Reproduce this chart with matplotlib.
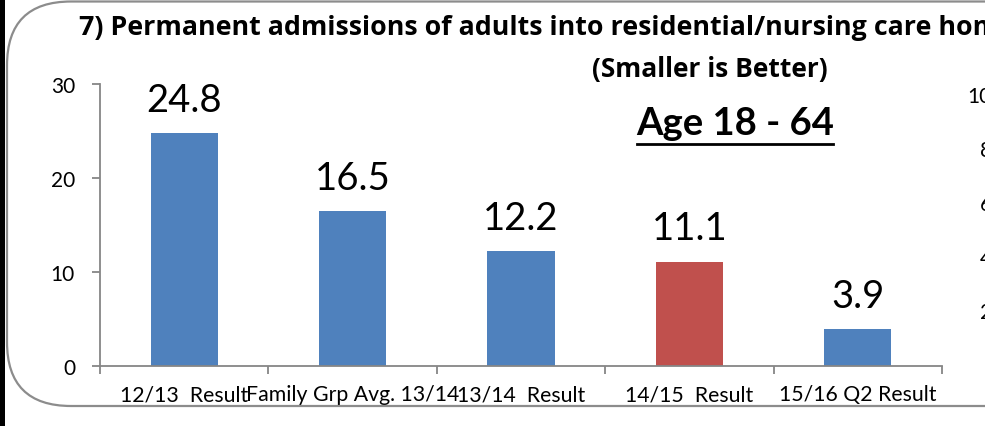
import matplotlib
matplotlib.use("Agg")
import matplotlib.pyplot as plt
from matplotlib.patches import FancyBboxPatch, Rectangle
from matplotlib.lines import Line2D

categories = ["12/13  Result", "Family Grp Avg. 13/14", "13/14  Result",
              "14/15  Result", "15/16 Q2 Result"]
values = [24.8, 16.5, 12.2, 11.1, 3.9]
value_labels = ["24.8", "16.5", "12.2", "11.1", "3.9"]
highlight = [False, False, False, True, False]
yticks = [0, 10, 20, 30]
right_ticks = ["10", "8", "6", "4", "2"]

title = "7) Permanent admissions of adults into residential/nursing care homes"
subtitle = "(Smaller is Better)"
age_label = "Age 18 - 64"

FONT = "Lato"
W, H = 985, 427
plt.rcParams['font.family'] = [FONT, 'DejaVu Sans']

fig = plt.figure(figsize=(W / 100, H / 100), dpi=100)
fig.patch.set_facecolor("white")

def fx(px):
    return px / W

def fy(py):
    return 1 - py / H

# rounded border (extends past right edge)
border = FancyBboxPatch((fx(7), fy(407)), fx(1100), fy(2.5) - fy(407),
                        boxstyle="round,pad=0,rounding_size=0.065",
                        transform=fig.transFigure, fill=False,
                        edgecolor="#8c8c8c", linewidth=1.6,
                        mutation_aspect=W / H, clip_on=False)
fig.patches.append(border)
# thick black line on the left
fig.patches.append(Rectangle((0, 0), fx(4.5), 1, transform=fig.transFigure,
                             facecolor="black", edgecolor="none"))

ax = fig.add_axes([fx(100), fy(367), fx(942) - fx(100), fy(85) - fy(367)])
x = list(range(len(categories)))
colors = ["#C0504D" if h else "#4F81BD" for h in highlight]
bars = ax.bar(x, values, width=0.4, color=colors, zorder=2)
ax.set_xlim(-0.5, len(categories) - 0.5)
ax.set_ylim(0, 30)
ax.set_yticks(yticks)
ax.set_yticklabels([str(t) for t in yticks], fontsize=15)
ax.set_xticks(x)
ax.set_xticklabels(categories, fontsize=15.3)
ax.set_xticks([i - 0.5 for i in range(len(categories) + 1)], minor=True)
ax.tick_params(axis='x', which='major', length=0, pad=13)
ax.tick_params(axis='x', which='minor', length=6, width=1.3, color="#868686")
ax.tick_params(axis='y', length=6, width=1.3, color="#868686", pad=12)
for s in ["top", "right"]:
    ax.spines[s].set_visible(False)
for s in ["left", "bottom"]:
    ax.spines[s].set_color("#868686")
    ax.spines[s].set_linewidth(1.3)

for xi, v, lab in zip(x, values, value_labels):
    ax.annotate(lab, (xi, v), xytext=(0, 16), textcoords="offset points",
                ha="center", va="baseline", fontsize=27.5)

fig.text(fx(79), fy(28), title, ha="left", va="center", fontsize=19.3,
         fontweight="bold", family=["Open Sans", "DejaVu Sans"])
fig.text(fx(710), fy(70), subtitle, ha="center", va="center", fontsize=19,
         fontweight="bold", family=["Open Sans", "DejaVu Sans"])
age = fig.text(fx(735), fy(124), age_label, ha="center", va="center",
               fontsize=27.5, fontweight="bold")
fig.add_artist(Line2D([fx(637), fx(833)], [fy(145), fy(145)],
                      transform=fig.transFigure, color="black", linewidth=2))

for i, t in enumerate(right_ticks):
    fig.text(fx(967 if len(t) > 1 else 980), fy(97 + 54 * i), t,
             ha="left", va="center", fontsize=15)

fig.savefig("out.png", dpi=100)
